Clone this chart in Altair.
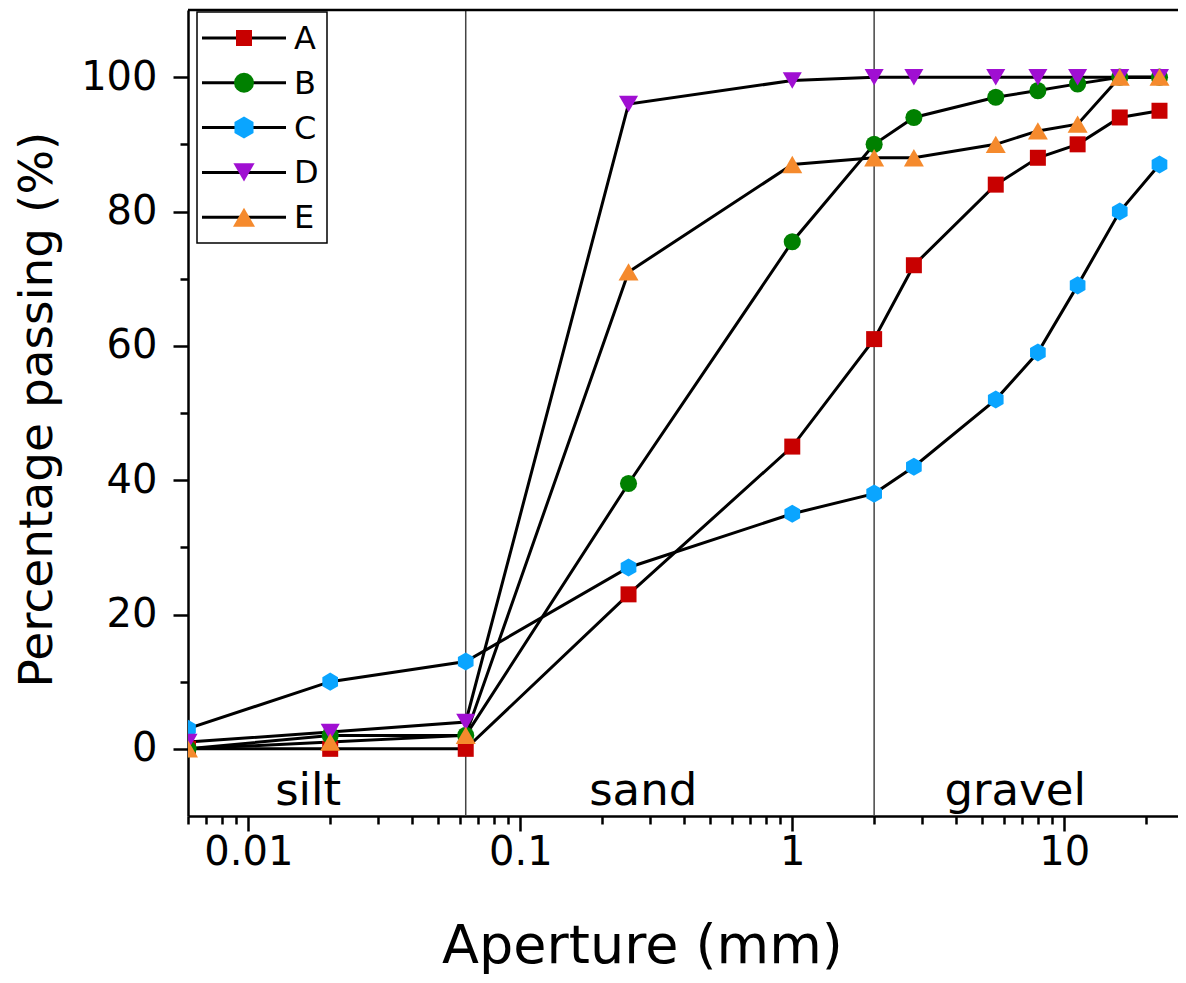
import altair as alt
import pandas as pd

# ---------------- data ----------------
SERIES = ["A", "B", "C", "D", "E"]
APERTURE = [0.006, 0.02, 0.063, 0.25, 1, 2, 2.8, 5.6, 8, 11.2, 16, 22.4]
PASS_A = [0, 0, 0, 23, 45, 61, 72, 84, 88, 90, 94, 95]
PASS_B = [0, 2, 2, 39.5, 75.5, 90, 94, 97, 98, 99, 100, 100]
PASS_C = [3, 10, 13, 27, 35, 38, 42, 52, 59, 69, 80, 87]
PASS_D = [1, 2.5, 4, 96, 99.5, 100, 100, 100, 100, 100, 100, 100]
PASS_E = [0, 1, 2, 71, 87, 88, 88, 90, 92, 93, 100, 100]
ALL_PASS = [PASS_A, PASS_B, PASS_C, PASS_D, PASS_E]

X_TICKS = [0.01, 0.1, 1, 10]
X_MINOR = [0.006, 0.007, 0.008, 0.009,
           0.02, 0.03, 0.04, 0.05, 0.06, 0.07, 0.08, 0.09,
           0.2, 0.3, 0.4, 0.5, 0.6, 0.7, 0.8, 0.9,
           2, 3, 4, 5, 6, 7, 8, 9, 20]
Y_TICKS = [0, 20, 40, 60, 80, 100]
Y_MINOR = [10, 30, 50, 70, 90]

BOUNDARIES = [0.063, 2]
REGION_LABELS = ["silt", "sand", "gravel"]
REGION_X = [0.0166, 0.283, 6.6]

# ---------------- style ----------------
COLORS = ["#C80000", "#008000", "#0AA5FF", "#A00FD2", "#F58A2D"]
HEXAGON = "M0,-1L0.866,-0.5L0.866,0.5L0,1L-0.866,0.5L-0.866,-0.5Z"
SHAPES = ["square", "circle", HEXAGON, "triangle-down", "triangle-up"]
SIZES = [256, 400, 484, 450, 484]
FONT = "DejaVu Sans"

W, H = 990, 806
X_DOMAIN = [0.006, 26.2]
Y_DOMAIN = [-10, 110]

rows = []
for s, vals in zip(SERIES, ALL_PASS):
    for a, v in zip(APERTURE, vals):
        rows.append({"series": s, "aperture": a, "passing": v})
df = pd.DataFrame(rows)

xscale = alt.Scale(type="log", domain=X_DOMAIN, nice=False)
yscale = alt.Scale(domain=Y_DOMAIN, nice=False, zero=False)

main_x_axis = alt.Axis(
    orient="bottom", values=X_TICKS, format="~g", grid=False,
    tickSize=15, tickWidth=2.5, tickColor="black",
    domainWidth=2.5, domainColor="black",
    labelFont=FONT, labelFontSize=40, labelColor="black", labelPadding=1,
    labelFlush=False, labelOverlap=False,
    title="Aperture (mm)", titleFont=FONT, titleFontSize=54,
    titleFontWeight="normal", titleColor="black",
    titleX=454, titleY=146, titleAlign="center", titleBaseline="alphabetic",
    titleAnchor="start",
)
main_y_axis = alt.Axis(
    orient="left", values=Y_TICKS, grid=False,
    tickSize=15, tickWidth=2.5, tickColor="black",
    domainWidth=2.5, domainColor="black",
    labelFont=FONT, labelFontSize=40, labelColor="black", labelPadding=16,
    labelFlush=False, labelOverlap=False,
    title="Percentage passing (%)", titleFont=FONT, titleFontSize=47,
    titleFontWeight="normal", titleColor="black",
    titleX=-151, titleY=399, titleAngle=-90, titleAlign="center",
    titleBaseline="middle", titleAnchor="start",
)
minor_x_axis = alt.Axis(orient="bottom", values=X_MINOR, labels=False, domain=False,
                        grid=False, tickSize=8, tickWidth=2.5, tickColor="black", title=None)
minor_y_axis = alt.Axis(orient="left", values=Y_MINOR, labels=False, domain=False,
                        grid=False, tickSize=8, tickWidth=2.5, tickColor="black", title=None)

base = alt.Chart(df)

lines = base.mark_line(color="black", strokeWidth=3, clip=True).encode(
    x=alt.X("aperture:Q", scale=xscale, axis=main_x_axis),
    y=alt.Y("passing:Q", scale=yscale, axis=main_y_axis),
    detail="series:N",
)

minor = base.mark_point(opacity=0).encode(
    x=alt.X("aperture:Q", scale=xscale, axis=minor_x_axis),
    y=alt.Y("passing:Q", scale=yscale, axis=minor_y_axis),
)

points = base.mark_point(filled=True, opacity=1, clip=True).encode(
    x=alt.X("aperture:Q", scale=xscale, axis=None),
    y=alt.Y("passing:Q", scale=yscale, axis=None),
    color=alt.Color("series:N", scale=alt.Scale(domain=SERIES, range=COLORS), legend=None),
    shape=alt.Shape("series:N", scale=alt.Scale(domain=SERIES, range=SHAPES), legend=None),
    size=alt.Size("series:N", scale=alt.Scale(domain=SERIES, range=SIZES), legend=None),
)

bounds = alt.Chart(pd.DataFrame({"b": BOUNDARIES})).mark_rule(
    color="#444444", strokeWidth=1.5
).encode(x=alt.X("b:Q", scale=xscale, axis=None))

regions = alt.Chart(pd.DataFrame({"label": REGION_LABELS, "x": REGION_X})).mark_text(
    font=FONT, fontSize=45, color="black", baseline="alphabetic", align="center"
).encode(
    x=alt.X("x:Q", scale=xscale, axis=None),
    y=alt.datum(-8.3, scale=yscale),
    text="label:N",
)

top_border = alt.Chart(pd.DataFrame({"a": [0]})).mark_rule(
    color="black", strokeWidth=2.5
).encode(x=alt.value(0), x2=alt.value(W), y=alt.value(0))

# ---------------- legend (drawn manually) ----------------
LEG_BOX = (9, 139, 2, 233)
LEG_Y0, LEG_DY = 28, 44.8
legend_layers = [
    alt.Chart(pd.DataFrame({"a": [0]})).mark_rect(
        fill="white", stroke="black", strokeWidth=1.5
    ).encode(x=alt.value(LEG_BOX[0]), x2=alt.value(LEG_BOX[1]),
             y=alt.value(LEG_BOX[2]), y2=alt.value(LEG_BOX[3]))
]
for i, s in enumerate(SERIES):
    yy = LEG_Y0 + i * LEG_DY
    d = pd.DataFrame({"series": [s]})
    legend_layers.append(
        alt.Chart(d).mark_rule(color="black", strokeWidth=3).encode(
            x=alt.value(14), x2=alt.value(98), y=alt.value(yy))
    )
    legend_layers.append(
        alt.Chart(d).mark_point(filled=True, opacity=1, fill=COLORS[i],
                                shape=SHAPES[i], size=SIZES[i], strokeWidth=0).encode(
            x=alt.value(56), y=alt.value(yy))
    )
    legend_layers.append(
        alt.Chart(d).mark_text(font=FONT, fontSize=32, color="black",
                               align="left", baseline="middle").encode(
            x=alt.value(106), y=alt.value(yy + 1), text="series:N")
    )

chart = alt.layer(
    bounds, lines, minor, points, regions, top_border, *legend_layers
).resolve_axis(
    x="independent", y="independent"
).properties(
    width=W, height=H,
    autosize=alt.AutoSizeParams(type="none"),
    padding={"left": 180, "top": 2, "right": 0, "bottom": 158},
).configure_view(stroke=None)

chart.save("out.html", embed_options={"renderer": "svg", "actions": False})
